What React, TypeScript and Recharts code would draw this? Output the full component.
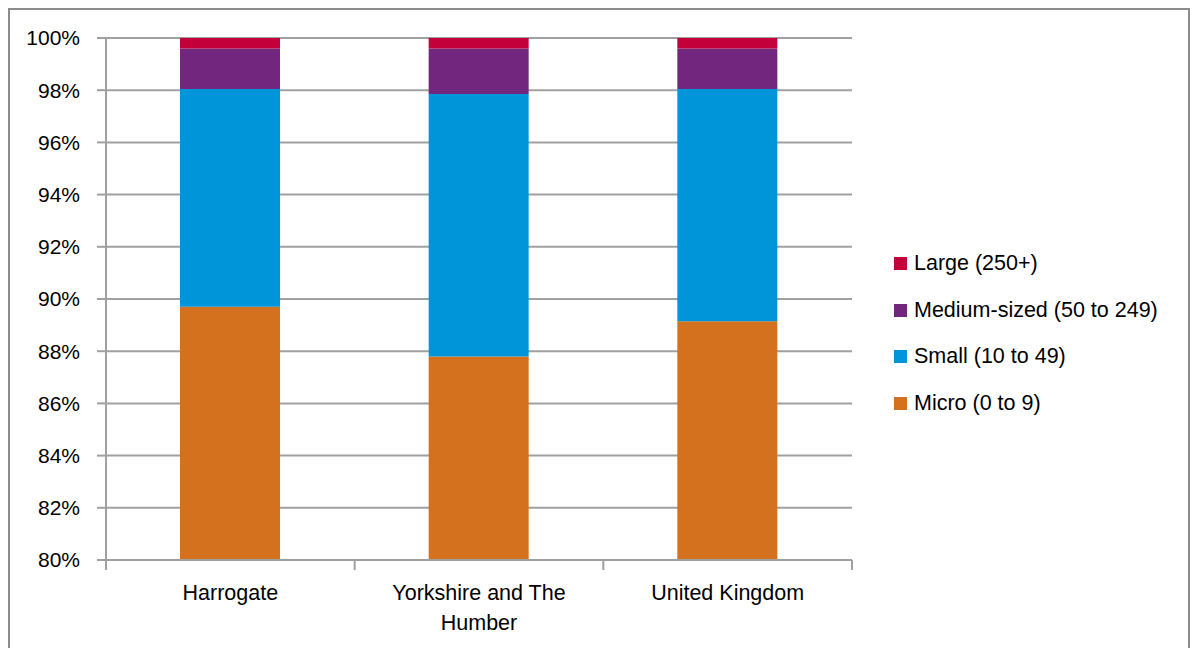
import { BarChart, Bar, XAxis, YAxis, CartesianGrid, Legend, Text } from "recharts";

const categories = ["Harrogate", "Yorkshire and The Humber", "United Kingdom"];
const micro = [89.7, 87.8, 89.15];
const small = [8.35, 10.05, 8.9];
const medium = [1.55, 1.75, 1.55];
const large = [0.4, 0.4, 0.4];
const yTicks = [80, 82, 84, 86, 88, 90, 92, 94, 96, 98, 100];
// boundaries between categories (integers) and category centres (halves)
const xTicks = [0, 0.5, 1, 1.5, 2, 2.5, 3];

const series = [
  { key: "micro", name: "Micro (0 to 9)", color: "#D3711F", values: micro },
  { key: "small", name: "Small (10 to 49)", color: "#0094D8", values: small },
  { key: "medium", name: "Medium-sized (50 to 249)", color: "#72267D", values: medium },
  { key: "large", name: "Large (250+)", color: "#C3003A", values: large },
];

const data = categories.map((c, i) => {
  const row: Record<string, string | number> = { name: c, pos: i + 0.5 };
  series.forEach((s) => { row[s.key] = s.values[i]; });
  return row;
});

const FONT = "'Liberation Sans', Arial, sans-serif";
const GRID = "#a0a0a0";

const EdgeTick = (props: any) => {
  const { x, y, payload } = props;
  const v = payload.value as number;
  if (Number.isInteger(v)) {
    return <line x1={x} x2={x} y1={y} y2={y + 10} stroke={GRID} strokeWidth={2} />;
  }
  return (
    <Text x={x} y={y + 25} width={190} textAnchor="middle" verticalAnchor="start" lineHeight={30}
      style={{ fontFamily: FONT, fontSize: 21.5, fill: "#000" }}>
      {categories[Math.floor(v)]}
    </Text>
  );
};

// legend lists the top of the stack first, like the original
const LegendContent = (props: any) => {
  const order = series.map((s) => s.name).reverse();
  const items = [...(props.payload || [])].sort((a: any, b: any) => order.indexOf(a.value) - order.indexOf(b.value));
  return (
    <div style={{ fontFamily: FONT, fontSize: 21.5, color: "#000" }}>
      {items.map((it: any) => (
        <div key={it.value} style={{ display: "flex", alignItems: "center", height: 46.7 }}>
          <span style={{ width: 13, height: 13, background: it.color, marginRight: 7, display: "inline-block" }} />
          <span>{it.value}</span>
        </div>
      ))}
    </div>
  );
};

export default function App() {
  return (
    <div style={{ position: "absolute", left: 0, top: 0, width: 1193, height: 648, overflow: "hidden", background: "#fff" }}>
      <div style={{ position: "absolute", left: 8, top: 8, width: 1178, height: 700, border: "2px solid #8c8c8c" }} />
      <div style={{ position: "absolute", left: 0, top: 0 }}>
        <BarChart width={1193} height={648} data={data} barSize={100}
          margin={{ top: 38, right: 341, bottom: 0, left: 0 }}>
          <CartesianGrid vertical={false} stroke={GRID} strokeWidth={2} />
          <XAxis dataKey="name" hide height={0} />
          <XAxis xAxisId="edge" type="number" dataKey="pos" domain={[0, 3]} ticks={xTicks} interval={0}
            height={88} tick={<EdgeTick />} tickSize={0} tickMargin={0} tickLine={false}
            axisLine={{ stroke: GRID, strokeWidth: 2 }} />
          <YAxis domain={[80, 100]} ticks={yTicks} allowDataOverflow width={106} tickSize={9} tickMargin={17}
            tickFormatter={(v) => `${v}%`} axisLine={{ stroke: GRID, strokeWidth: 2 }}
            tickLine={{ stroke: GRID, strokeWidth: 2 }}
            tick={{ fontFamily: FONT, fontSize: 21, fill: "#000" }} />
          {series.map((s) => (
            <Bar key={s.key} dataKey={s.key} name={s.name} stackId="a" fill={s.color} isAnimationActive={false} />
          ))}
          <Legend layout="vertical" align="center" verticalAlign="middle" content={<LegendContent />}
            wrapperStyle={{ position: "absolute", left: 894, top: 240, width: 295 }} />
        </BarChart>
      </div>
    </div>
  );
}
